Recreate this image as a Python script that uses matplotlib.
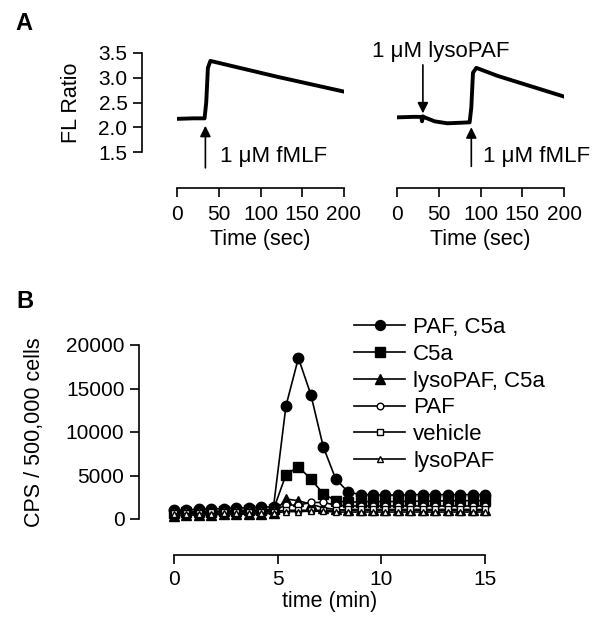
import matplotlib.pyplot as plt

plt.rcParams['font.family'] = ['Liberation Sans', 'DejaVu Sans']
plt.rcParams['font.size'] = 15

# ---- panel A traces
left_t = [0, 20, 33, 35, 37, 40, 80, 120, 160, 200]
left_v = [2.17, 2.18, 2.18, 2.5, 3.2, 3.34, 3.18, 3.02, 2.87, 2.72]
right_t = [0, 20, 29, 30, 31, 33, 45, 60, 75, 87, 89, 91, 95, 120, 160, 200]
right_v = [2.20, 2.21, 2.21, 2.12, 2.22, 2.20, 2.12, 2.08, 2.09, 2.10, 2.4, 3.1, 3.20, 3.04, 2.83, 2.62]

# ---- panel B
times = [0.0, 0.6, 1.2, 1.8, 2.4, 3.0, 3.6, 4.2, 4.8, 5.4, 6.0, 6.6, 7.2,
         7.8, 8.4, 9.0, 9.6, 10.2, 10.8, 11.4, 12.0, 12.6, 13.2, 13.8, 14.4, 15.0]
paf_c5a = [1000, 1050, 1100, 1150, 1200, 1250, 1300, 1350, 1400, 13000, 18500, 14300, 8300,
           4600, 3100, 2800, 2800, 2750, 2750, 2800, 2800, 2800, 2800, 2800, 2800, 2800]
c5a = [700, 750, 800, 850, 900, 950, 1000, 1050, 1100, 5100, 6000, 4600, 2900,
       2100, 1900, 2000, 2000, 2000, 2000, 2050, 2050, 2050, 2100, 2100, 2100, 2100]
lyso_c5a = [400, 430, 460, 490, 520, 550, 580, 610, 650, 2300, 2100, 1700, 1300,
            1100, 1000, 1000, 1000, 1000, 1000, 1000, 1000, 1000, 1000, 1000, 1000, 1000]
paf = [800, 820, 840, 860, 880, 900, 920, 940, 960, 1600, 1600, 1900, 1900,
       1600, 1500, 1500, 1500, 1500, 1500, 1500, 1500, 1500, 1500, 1500, 1500, 1500]
vehicle = [700, 720, 740, 760, 780, 800, 820, 840, 860, 1000, 1000, 1000, 1000,
           1000, 1100, 1100, 1100, 1100, 1100, 1100, 1100, 1100, 1100, 1100, 1100, 1100]
lysopaf = [600, 610, 620, 630, 640, 650, 660, 670, 680, 850, 850, 900, 900,
           800, 800, 800, 800, 800, 800, 800, 800, 800, 800, 800, 800, 800]

W, H = 600, 626
PT = 0.72  # points per pixel at dpi 100
fig = plt.figure(figsize=(6, 6.26), dpi=100)

def box(x0, x1, ytop, ybot):
    return [x0 / W, 1 - ybot / H, (x1 - x0) / W, (ybot - ytop) / H]

def style(ax, xpad):
    ax.spines['top'].set_visible(False)
    ax.spines['right'].set_visible(False)
    ax.spines['bottom'].set_position(('outward', 36 * PT))
    ax.spines['left'].set_position(('outward', 35 * PT))
    for s in ax.spines.values():
        s.set_linewidth(1.2)
    ax.tick_params(direction='out', length=6.5, width=1.2, labelsize=15, pad=4)
    ax.tick_params(axis='x', pad=xpad)
    ax.patch.set_visible(False)

axl = fig.add_axes(box(177, 344, 53, 152))
axr = fig.add_axes(box(397, 564, 53, 152))
for ax, t, v in [(axl, left_t, left_v), (axr, right_t, right_v)]:
    ax.plot(t, v, color='k', lw=2.8, solid_joinstyle='round')
    ax.set_xlim(0, 200)
    ax.set_ylim(1.5, 3.5)
    style(ax, 6)
    ax.set_xticks([0, 50, 100, 150, 200])
    ax.set_xlabel('Time (sec)', fontsize=15.5, labelpad=3)

axl.set_yticks([1.5, 2.0, 2.5, 3.0, 3.5])
axl.set_ylabel('FL Ratio', fontsize=15.5, labelpad=12)
axr.spines['left'].set_visible(False)
axr.set_yticks([])

arrow = dict(arrowstyle='-|>', color='k', lw=1.2, mutation_scale=16, shrinkA=0, shrinkB=0)
axl.annotate('', xy=(34, 2.03), xytext=(34, 1.18), arrowprops=arrow, annotation_clip=False)
axl.text(51, 1.40, '1 \u03bcM fMLF', va='center', ha='left', fontsize=16, clip_on=False)
axr.annotate('', xy=(89, 2.0), xytext=(89, 1.21), arrowprops=arrow, annotation_clip=False)
axr.text(103, 1.40, '1 \u03bcM fMLF', va='center', ha='left', fontsize=16, clip_on=False)
axr.annotate('', xy=(31, 2.28), xytext=(31, 3.26), arrowprops=arrow, annotation_clip=False)
axr.text(52, 3.53, '1 \u03bcM lysoPAF', va='center', ha='center', fontsize=16, clip_on=False)

fig.text(24 / W, 1 - 23 / H, 'A', fontsize=17, fontweight='bold', va='center', ha='center')
fig.text(25 / W, 1 - 302 / H, 'B', fontsize=17, fontweight='bold', va='center', ha='center')

# ---- panel B
axb = fig.add_axes(box(174, 485, 345, 519))
series = [
    ('PAF, C5a', paf_c5a, 'o', 'k'),
    ('C5a', c5a, 's', 'k'),
    ('lysoPAF, C5a', lyso_c5a, '^', 'k'),
    ('PAF', paf, 'o', 'w'),
    ('vehicle', vehicle, 's', 'w'),
    ('lysoPAF', lysopaf, '^', 'w'),
]
for name, vals, m, fc in series:
    ms = 7.5 if fc == 'k' else 5
    axb.plot(times, vals, color='k', lw=1.2, marker=m, ms=ms, mfc=fc, mec='k',
             mew=1.0, label=name, clip_on=False)
axb.set_xlim(0, 15)
axb.set_ylim(0, 20000)
axb.set_xticks([0, 5, 10, 15])
axb.set_yticks([0, 5000, 10000, 15000, 20000])
style(axb, 4)
axb.set_xlabel('time (min)', fontsize=15.5, labelpad=2)
axb.set_ylabel('CPS / 500,000 cells', fontsize=15.5, labelpad=15)

handles, labels = axb.get_legend_handles_labels()
fig.legend(handles, labels, loc='upper left', bbox_to_anchor=(354 / W, 1 - 317 / H),
           frameon=False, handlelength=2.3, handletextpad=0.36, labelspacing=0.26,
           fontsize=16, markerscale=0.95, borderaxespad=0, borderpad=0)

fig.savefig('out.png', dpi=100)
